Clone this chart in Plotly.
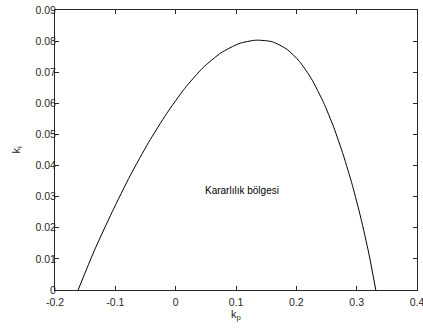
import plotly.graph_objects as go

# Stability boundary
kp = [-0.1617, -0.135, -0.105, -0.075, -0.045, -0.015, 0.015, 0.045, 0.075, 0.105, 0.133,
      0.160, 0.185, 0.205, 0.225, 0.245, 0.262, 0.278, 0.293, 0.307, 0.320, 0.3317]
ki = [0.0, 0.0126, 0.0252, 0.0369, 0.0474, 0.0567, 0.0648, 0.0714, 0.0762, 0.0792, 0.0803,
      0.0798, 0.0773, 0.0735, 0.0679, 0.0603, 0.0523, 0.0433, 0.0336, 0.0231, 0.0119, 0.0]

x_ticks = [-0.2, -0.1, 0, 0.1, 0.2, 0.3, 0.4]
x_tick_labels = ["-0.2", "-0.1", "0", "0.1", "0.2", "0.3", "0.4"]
y_ticks = [0, 0.01, 0.02, 0.03, 0.04, 0.05, 0.06, 0.07, 0.08, 0.09]
y_tick_labels = ["0", "0.01", "0.02", "0.03", "0.04", "0.05", "0.06", "0.07", "0.08", "0.09"]

region_label = "Kararlılık bölgesi"
region_pos = (0.045, 0.032)

AX = "#262626"
FONT = "Liberation Sans, Arial, Helvetica, sans-serif"

fig = go.Figure()
fig.add_trace(go.Scatter(x=kp, y=ki, mode="lines",
                         line=dict(color="black", width=1, shape="spline", smoothing=0.6),
                         showlegend=False, hoverinfo="skip"))

fig.add_annotation(x=region_pos[0], y=region_pos[1], text=region_label, showarrow=False,
                   xanchor="left", yanchor="middle", font=dict(family=FONT, size=10, color="black"))

axis_common = dict(showline=True, linecolor=AX, linewidth=1, mirror="ticks",
                   ticks="inside", ticklen=4, tickwidth=1, tickcolor=AX,
                   showgrid=False, zeroline=False, ticklabeloverflow="allow",
                   tickfont=dict(family=FONT, size=10.5, color=AX))

fig.update_xaxes(range=[-0.2, 0.4], tickvals=x_ticks, ticktext=x_tick_labels,
                 ticklabelstandoff=2,
                 title=dict(text="k<sub>p</sub>", font=dict(family=FONT, size=11, color=AX), standoff=3),
                 **axis_common)
fig.update_yaxes(range=[0, 0.09], tickvals=y_ticks, ticktext=y_tick_labels,
                 ticklabelstandoff=-4,
                 title=dict(text="k<sub>i</sub>", font=dict(family=FONT, size=11, color=AX), standoff=12),
                 **axis_common)

fig.update_layout(width=423, height=332, autosize=False,
                  margin=dict(l=55, r=6, t=10, b=42, autoexpand=False),
                  paper_bgcolor="white", plot_bgcolor="white")

fig.write_html("out.html", config={"displayModeBar": False, "staticPlot": True},
               post_script="document.body.style.margin='0';document.body.style.padding='0';")
